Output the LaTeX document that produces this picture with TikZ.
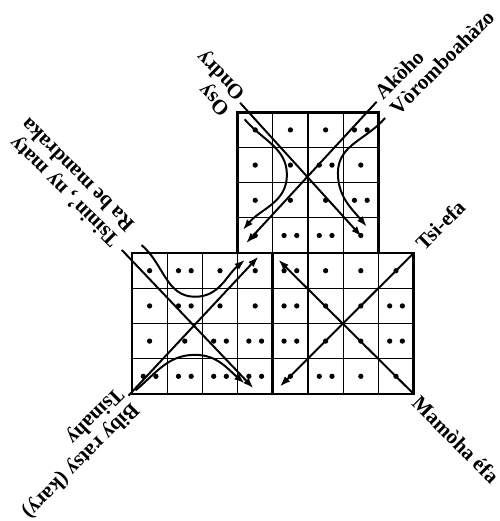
\documentclass[tikz,border=0pt]{standalone}
\usepackage{fontspec}
\setmainfont{Liberation Serif}
\usetikzlibrary{arrows.meta}

\begin{document}
\begin{tikzpicture}[x=1cm,y=1cm,font=\fontsize{17}{17.5}\selectfont\bfseries,
  fine/.style={line width=0.9pt},
  kader/.style={line width=2.2pt},
  trait/.style={line width=1.6pt},
  fleche/.style={trait,-{Latex[length=3mm,width=2.1mm]}},
  etiq/.style={inner sep=0pt,anchor=west,align=left}]
  \useasboundingbox (-3.75,-3.61) rectangle (10.45,11.19);
  % grids
  \draw[fine] (0,0) grid (8,4);
  \draw[fine] (3,4) grid (7,8);
  \draw[kader] (0,0) rectangle (4,4) (4,0) rectangle (8,4) (3,4) rectangle (7,8);
  % dots (one or two per cell)
  \foreach \x/\y/\n in {0/3/1,1/3/2,2/3/1,3/3/1, 0/2/1,1/2/2,2/2/1,3/2/1,
      0/1/1,1/1/1,2/1/2,3/1/2, 0/0/2,1/0/2,2/0/2,3/0/2,
      4/3/2,5/3/1,6/3/1,7/3/1, 4/2/2,5/2/1,6/2/1,7/2/2,
      4/1/2,5/1/1,6/1/1,7/1/2, 4/0/1,5/0/2,6/0/1,7/0/1,
      3/7/1,4/7/1,5/7/1,6/7/2, 3/6/1,4/6/1,5/6/2,6/6/1,
      3/5/1,4/5/1,5/5/1,6/5/2, 3/4/1,4/4/2,5/4/2,6/4/1}{
    \ifnum\n=1 \fill (\x+.5,\y+.5) circle (.075);
    \else \fill (\x+.32,\y+.5) circle (.075) (\x+.68,\y+.5) circle (.075);
    \fi}
  % top square
  \coordinate (osy) at (3.07,8.27);   \coordinate (osyE) at (6.52,4.47);
  \coordinate (akoho) at (6.95,8.3);  \coordinate (akohoE) at (3.24,4.28);
  \coordinate (ondry) at (3.2,7.8);   \coordinate (ondryV) at (4.4,6.22);  \coordinate (ondryE) at (3.15,4.66);
  \coordinate (voro) at (7.19,7.84);  \coordinate (voroV) at (5.85,6.28);  \coordinate (voroE) at (6.67,4.75);
  \draw[fleche] (osy) -- (osyE);
  \draw[fleche] (akoho) -- (akohoE);
  \draw[fleche] (ondry) to[out=-50,in=90] (ondryV) to[out=-90,in=50] (ondryE);
  \draw[fleche] (voro) to[out=-130,in=90] (voroV) to[out=-90,in=130] (voroE);
  % bottom left square
  \coordinate (tsinin) at (-0.29,4.09); \coordinate (tsininE) at (3.45,0.16);
  \coordinate (rabe) at (0.27,4.23);    \coordinate (rabeV) at (1.79,2.76);  \coordinate (rabeE) at (3.21,3.81);
  \coordinate (biby) at (-0.1,-0.05);   \coordinate (bibyE) at (3.59,3.9);
  \coordinate (tsinahy) at (0.1,0.1);   \coordinate (tsinahyV) at (1.79,1.11); \coordinate (tsinahyE) at (3.2,0.3);
  \draw[fleche] (tsinin) -- (tsininE);
  \draw[fleche] (biby) -- (bibyE);
  \draw[fleche] (rabe) to[out=-40,in=180] (rabeV) to[out=0,in=220] (rabeE);
  \draw[fleche] (tsinahy) to[out=40,in=180] (tsinahyV) to[out=0,in=140] (tsinahyE);
  % bottom right square
  \coordinate (tsiefa) at (8,4);   \coordinate (tsiefaE) at (4.2,0.21);
  \coordinate (mamoha) at (8,0);   \coordinate (mamohaE) at (4.16,3.81);
  \draw[fleche] (tsiefa) -- (tsiefaE);
  \draw[fleche] (mamoha) -- (mamohaE);
  % labels
  \node[etiq,rotate=135] (lOsy) at (2.93,8.24) {Osy\\Ondry};
  \node[etiq,rotate=45] (lAkoho) at (7.2,8.25) {Akòho\\Vòromboahàzo};
  \node[etiq,rotate=135] (lTsinin) at (-0.26,4.47) {Tsinin', ny maty\\Ra be mandraka};
  \node[etiq,rotate=225] (lBiby) at (-0.14,-0.12) {Biby ratsy (kary)\\Tsinahy};
  \node[etiq,rotate=45] (lTsiefa) at (8.15,4.2) {Tsi-efa};
  \node[etiq,rotate=-45] (lMamoha) at (8.06,-0.16) {Mamòha éfa};
\end{tikzpicture}
\end{document}
